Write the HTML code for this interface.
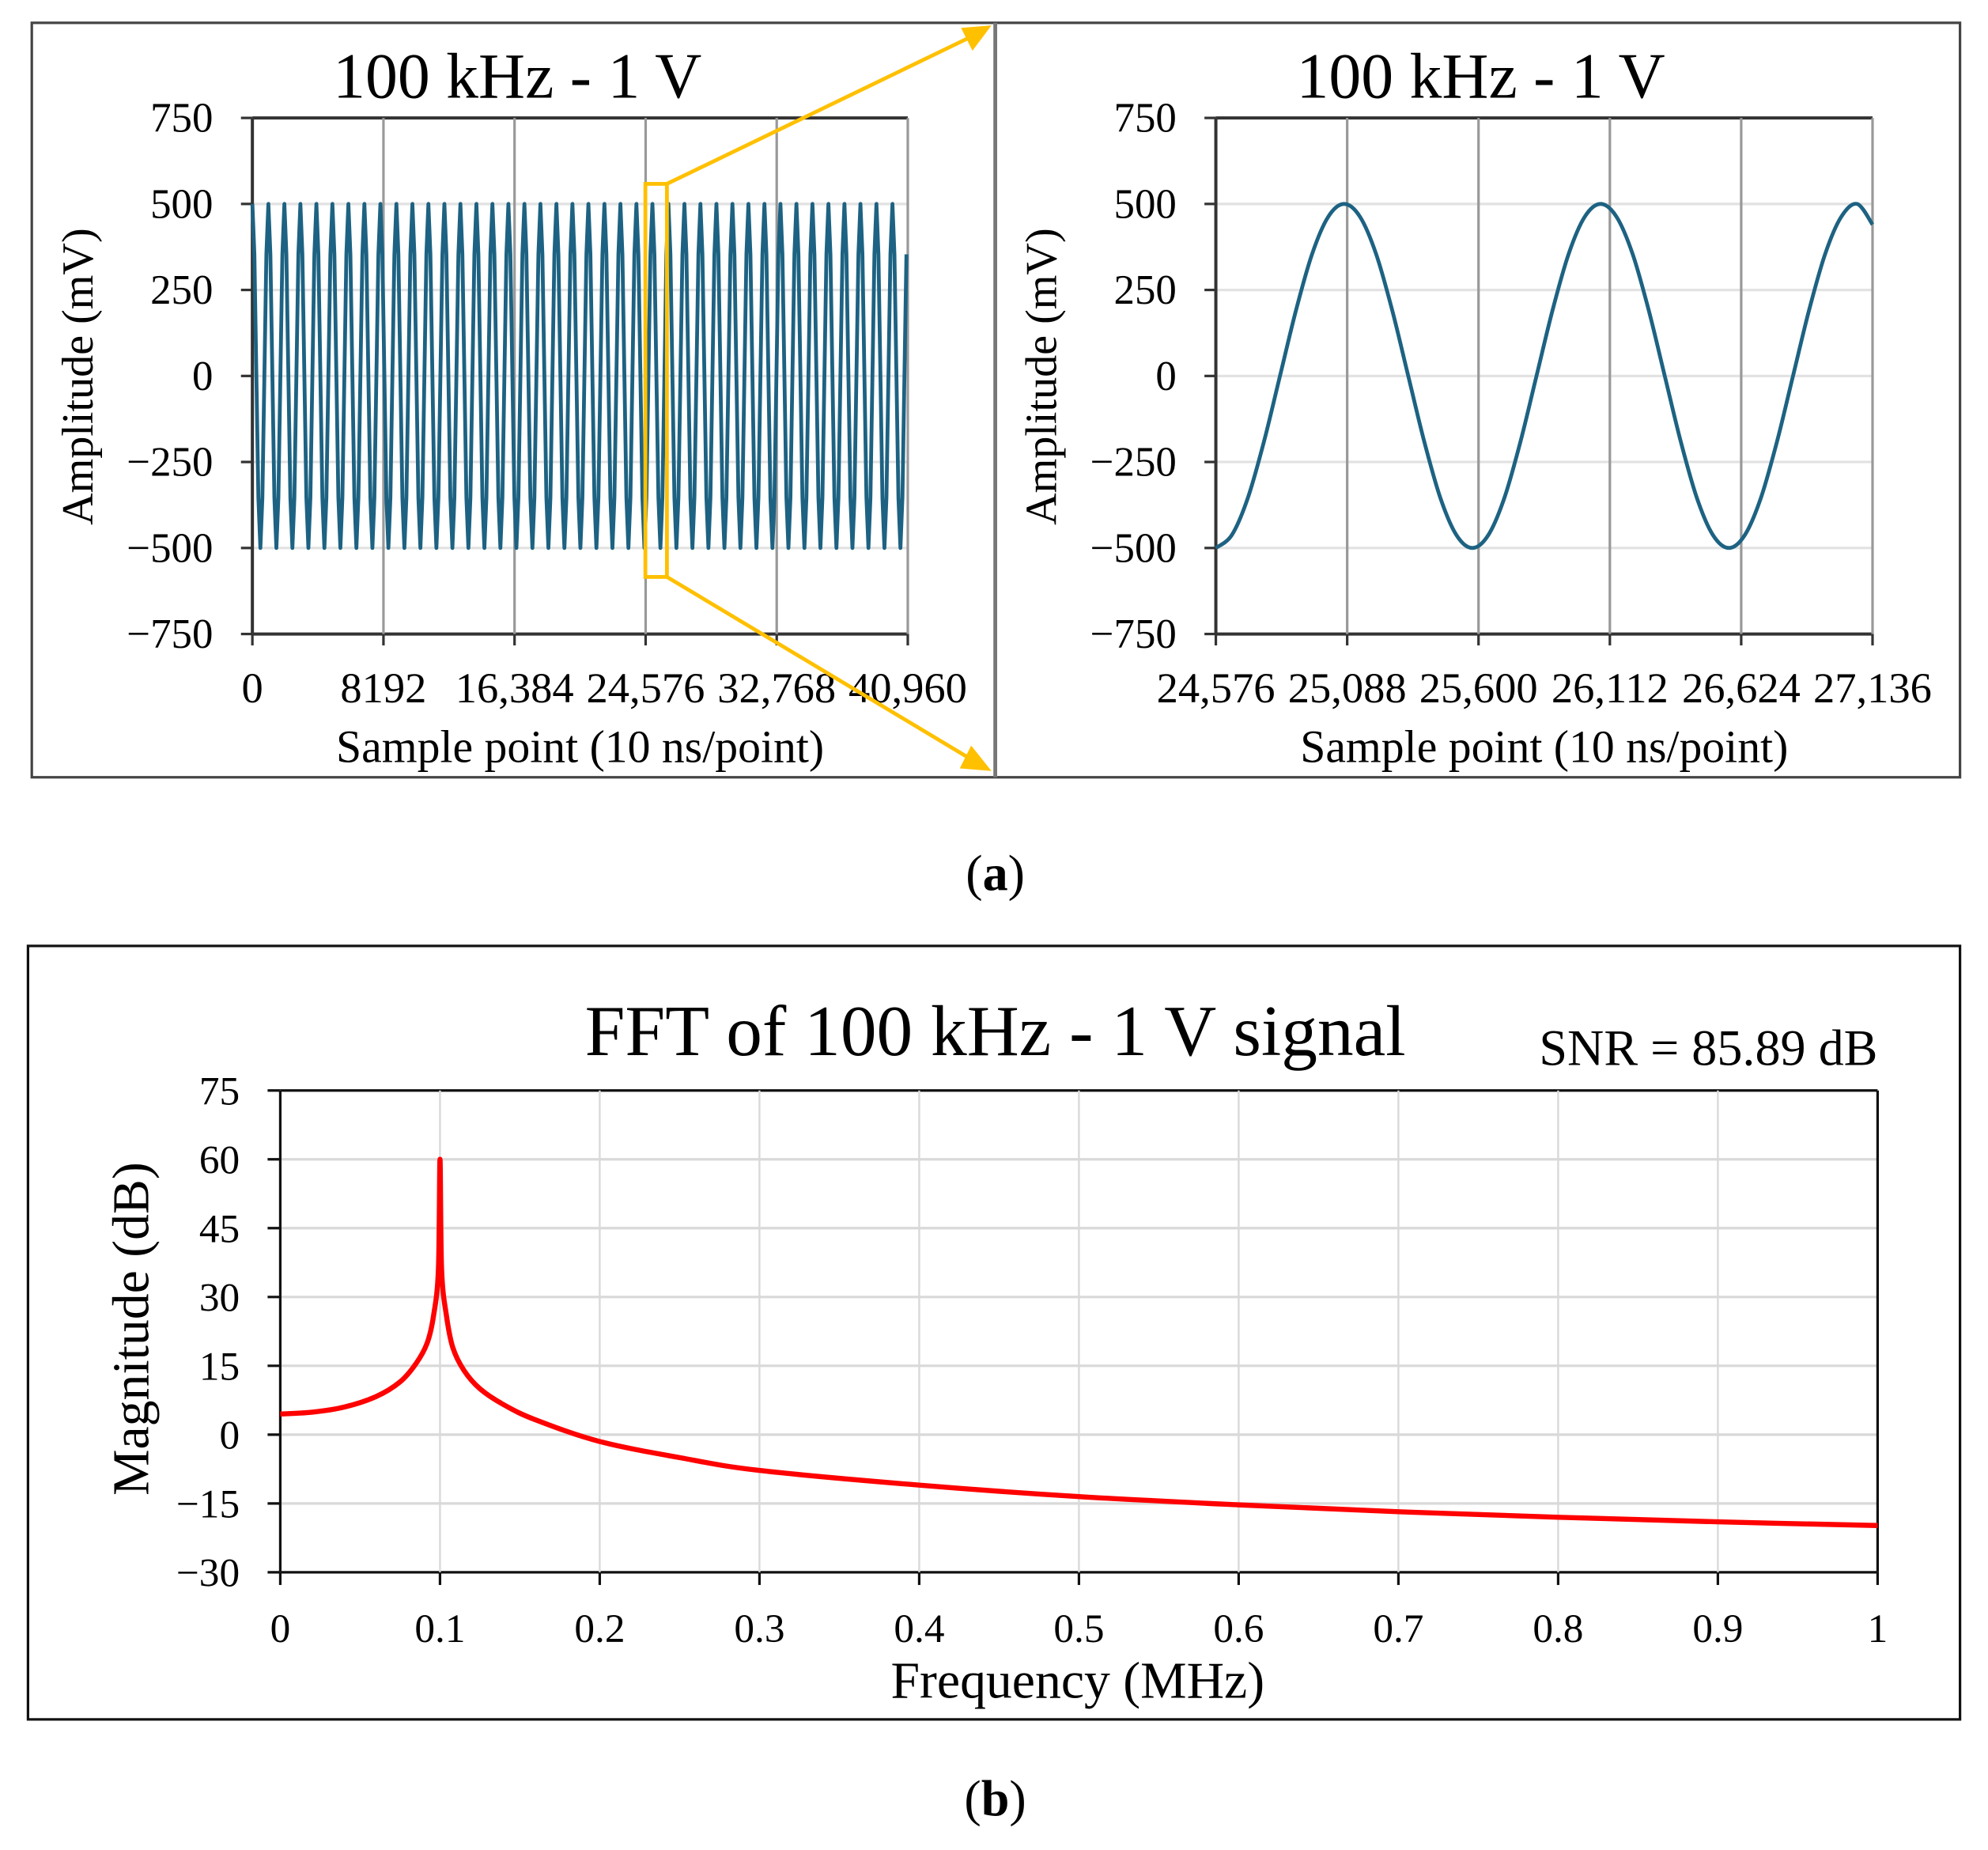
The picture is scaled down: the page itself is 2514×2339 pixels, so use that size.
<!DOCTYPE html>
<html><head><meta charset="utf-8"><style>
html,body{margin:0;padding:0;background:#fff}
svg{display:block;font-family:"Liberation Serif",serif}
</style></head><body>
<svg id="fig" width="2514" height="2339" viewBox="0 0 1568 1459" xmlns="http://www.w3.org/2000/svg">
<rect x="0" y="0" width="1568" height="1459" fill="#fff"/>
<rect x="25" y="18" width="1521" height="595" fill="none" stroke="#444" stroke-width="2"/>
<line x1="785" y1="18" x2="785" y2="613" stroke="#777" stroke-width="3"/>
<rect x="22" y="746" width="1524" height="610" fill="none" stroke="#111" stroke-width="2"/>
<g id="left"></g>
<g id="right"></g>
<g id="fft"></g>
<g stroke="#ffc000" stroke-width="3" fill="none">
<rect x="509" y="145" width="17" height="310"/>
<line x1="526" y1="145" x2="768" y2="28"/>
<line x1="526" y1="455" x2="768" y2="600"/>
</g>
<polygon points="782,20 758,22 767,40" fill="#ffc000"/>
<polygon points="782,608 766,588 757,606" fill="#ffc000"/>
<text x="785" y="702" text-anchor="middle" font-size="40">(<tspan font-weight="bold">a</tspan>)</text>
<text x="785" y="1432" text-anchor="middle" font-size="40">(<tspan font-weight="bold">b</tspan>)</text>
</svg>
<script>
// Left chart data
const leftXTicks=[0,8192,16384,24576,32768,40960];
const leftXLabels=["0","8192","16,384","24,576","32,768","40,960"];
const yTicks=[750,500,250,0,-250,-500,-750];
const yLabels=["750","500","250","0","\u2212250","\u2212500","\u2212750"];
const leftAmplitude=[500];
const leftPeriod=[1000];
const leftSpan=[0,40960];
// Right chart data
const rightXTicks=[24576,25088,25600,26112,26624,27136];
const rightXLabels=["24,576","25,088","25,600","26,112","26,624","27,136"];
const rightStep=[62.5];
const rightY=[-500,-462,-354,-191,0,191,354,462,500,462,354,191,0,-191,-354,-462,
-500,-462,-354,-191,0,191,354,462,500,462,354,191,0,-191,-354,-462,
-500,-462,-354,-191,0,191,354,462,500];
const rightEnd=[27136,440];
// FFT data
const fftF=[0,0.02,0.04,0.06,0.075,0.085,0.092,0.096,0.099,0.1,0.101,0.104,0.108,0.115,0.125,0.14,0.16,0.2,0.25,0.3,0.4,0.5,0.6,0.7,0.8,0.9,1.0];
const fftDb=[4.5,4.9,6,8.3,11.5,15.5,20,26,36,60,36,26,19,14,10,6.5,3.2,-1.5,-5,-7.8,-11,-13.5,-15.3,-16.8,-18,-19,-19.8];
const fftXTicks=[0,0.1,0.2,0.3,0.4,0.5,0.6,0.7,0.8,0.9,1];
const fftYTicks=[75,60,45,30,15,0,-15,-30];
const fftYLabels=["75","60","45","30","15","0","\u221215","\u221230"];

const NS="http://www.w3.org/2000/svg";
function mk(parent,tag,attrs,text){const e=document.createElementNS(NS,tag);for(const k in attrs)e.setAttribute(k,attrs[k]);if(text!==undefined)e.textContent=text;parent.appendChild(e);return e;}
function smooth(pts){let d="M"+pts[0][0]+","+pts[0][1];for(let i=0;i<pts.length-1;i++){const p0=pts[Math.max(i-1,0)],p1=pts[i],p2=pts[i+1],p3=pts[Math.min(i+2,pts.length-1)];const c1=[p1[0]+(p2[0]-p0[0])/6,p1[1]+(p2[1]-p0[1])/6],c2=[p2[0]-(p3[0]-p1[0])/6,p2[1]-(p3[1]-p1[1])/6];d+=" C"+c1[0].toFixed(2)+","+c1[1].toFixed(2)+" "+c2[0].toFixed(2)+","+c2[1].toFixed(2)+" "+p2[0].toFixed(2)+","+p2[1].toFixed(2);}return d;}

function waveChart(g,x0,x1,xmin,xmax,xTicks,xLabels,titleX,pathD){
  const y0=93,y1=500;
  const sx=v=>x0+(v-xmin)/(xmax-xmin)*(x1-x0);
  const sy=v=>y0+(750-v)/1500*(y1-y0);
  yTicks.forEach((t,i)=>{
    const l=mk(g,'line',{x1:x0,x2:x1,y1:sy(t),y2:sy(t),stroke:(t===750||t===-750)?'#333':'#e2e2e2','stroke-width':(t===750||t===-750)?2.5:2});
    
    
    const tk=mk(g,'line',{x1:x0-9,x2:x0,y1:sy(t),y2:sy(t),stroke:'#333','stroke-width':2});
    
    
    const tx=mk(g,'text',{x:x0-31,y:sy(t)+11,'text-anchor':'end','font-size':33},yLabels[i]);
    
    
  });
  xTicks.forEach((t,i)=>{
    const l=mk(g,'line',{x1:sx(t),x2:sx(t),y1:y0,y2:y1,stroke:'#999','stroke-width':2});
    
    
    const tk=mk(g,'line',{x1:sx(t),x2:sx(t),y1:y1,y2:y1+9,stroke:'#333','stroke-width':2});
    
    
    const tx=mk(g,'text',{x:sx(t),y:554,'text-anchor':'middle','font-size':34},xLabels[i]);
    
    
  });
  const ax=mk(g,'line',{x1:x0,x2:x0,y1:y0,y2:y1,stroke:'#333','stroke-width':2.5});
  
  
  const p=mk(g,'path',{d:pathD(sx,sy),fill:'none',stroke:'#1d6282','stroke-width':3,'stroke-linejoin':'round'});
  
  
  const t=mk(g,'text',{x:titleX,y:77,'text-anchor':'middle','font-size':51},'100 kHz - 1 V');
  
  
  const xt=mk(g,'text',{x:(x0+x1)/2,y:601,'text-anchor':'middle','font-size':36},'Sample point (10 ns/point)');
  
  
  const yt=mk(g,'text',{x:0,y:0,'text-anchor':'middle','font-size':35,transform:'translate('+(x0-126)+',297) rotate(-90)'},'Amplitude  (mV)');
  
  
}

waveChart(document.getElementById('left'),199,716,0,40960,leftXTicks,leftXLabels,408,(sx,sy)=>{
  const A=leftAmplitude[0],P=leftPeriod[0];let d="";
  for(let x=leftSpan[0];x<=leftSpan[1];x+=P/8){const v=A*Math.sin(2*Math.PI*x/P+Math.PI/2);d+=(d?" L":"M")+sx(x).toFixed(2)+","+sy(v).toFixed(2);}
  return d;
});
waveChart(document.getElementById('right'),959,1477,24576,27136,rightXTicks,rightXLabels,1168,(sx,sy)=>{
  const pts=rightY.map((v,i)=>[sx(24576+i*rightStep[0]),sy(v)]);
  pts.push([sx(rightEnd[0]),sy(rightEnd[1])]);
  return smooth(pts);
});

(function(){
  const g=document.getElementById('fft');
  const x0=221,x1=1481,y0=860,y1=1240;
  const sx=v=>x0+v*(x1-x0);
  const sy=v=>y0+(75-v)/105*(y1-y0);
  fftYTicks.forEach((t,i)=>{
    const l=mk(g,'line',{x1:x0,x2:x1,y1:sy(t),y2:sy(t),stroke:(t===75||t===-30)?'#111':'#d9d9d9','stroke-width':2});
    
    
    const tk=mk(g,'line',{x1:x0-10,x2:x0,y1:sy(t),y2:sy(t),stroke:'#111','stroke-width':2});
    
    
    const tx=mk(g,'text',{x:x0-32,y:sy(t)+11,'text-anchor':'end','font-size':32},fftYLabels[i]);
    
    
  });
  fftXTicks.forEach(t=>{
    const l=mk(g,'line',{x1:sx(t),x2:sx(t),y1:y0,y2:y1,stroke:'#d9d9d9','stroke-width':1.5});
    
    
    const tk=mk(g,'line',{x1:sx(t),x2:sx(t),y1:y1,y2:y1+10,stroke:'#111','stroke-width':2});
    
    
    const tx=mk(g,'text',{x:sx(t),y:1295,'text-anchor':'middle','font-size':32},String(t));
    
    
  });
  const ax=mk(g,'line',{x1:x0,x2:x0,y1:y0,y2:y1,stroke:'#111','stroke-width':2});
  
  
  const ax2=mk(g,'line',{x1:x1,x2:x1,y1:y0,y2:y1,stroke:'#111','stroke-width':2});
  
  
  const p=mk(g,'path',{d:smooth(fftF.map((f,i)=>[sx(f),sy(fftDb[i])])),fill:'none',stroke:'#ff0000','stroke-width':4,'stroke-linejoin':'round'});
  
  
  const t=mk(g,'text',{x:785,y:832,'text-anchor':'middle','font-size':57},'FFT of 100 kHz - 1 V signal');
  
  
  const s=mk(g,'text',{x:1481,y:840,'text-anchor':'end','font-size':40},'SNR = 85.89 dB');
  
  
  const xt=mk(g,'text',{x:850,y:1339,'text-anchor':'middle','font-size':41},'Frequency (MHz)');
  
  
  const yt=mk(g,'text',{x:0,y:0,'text-anchor':'middle','font-size':41,transform:'translate(117,1048) rotate(-90)'},'Magnitude (dB)');
  
  
})();
</script>
</body></html>
